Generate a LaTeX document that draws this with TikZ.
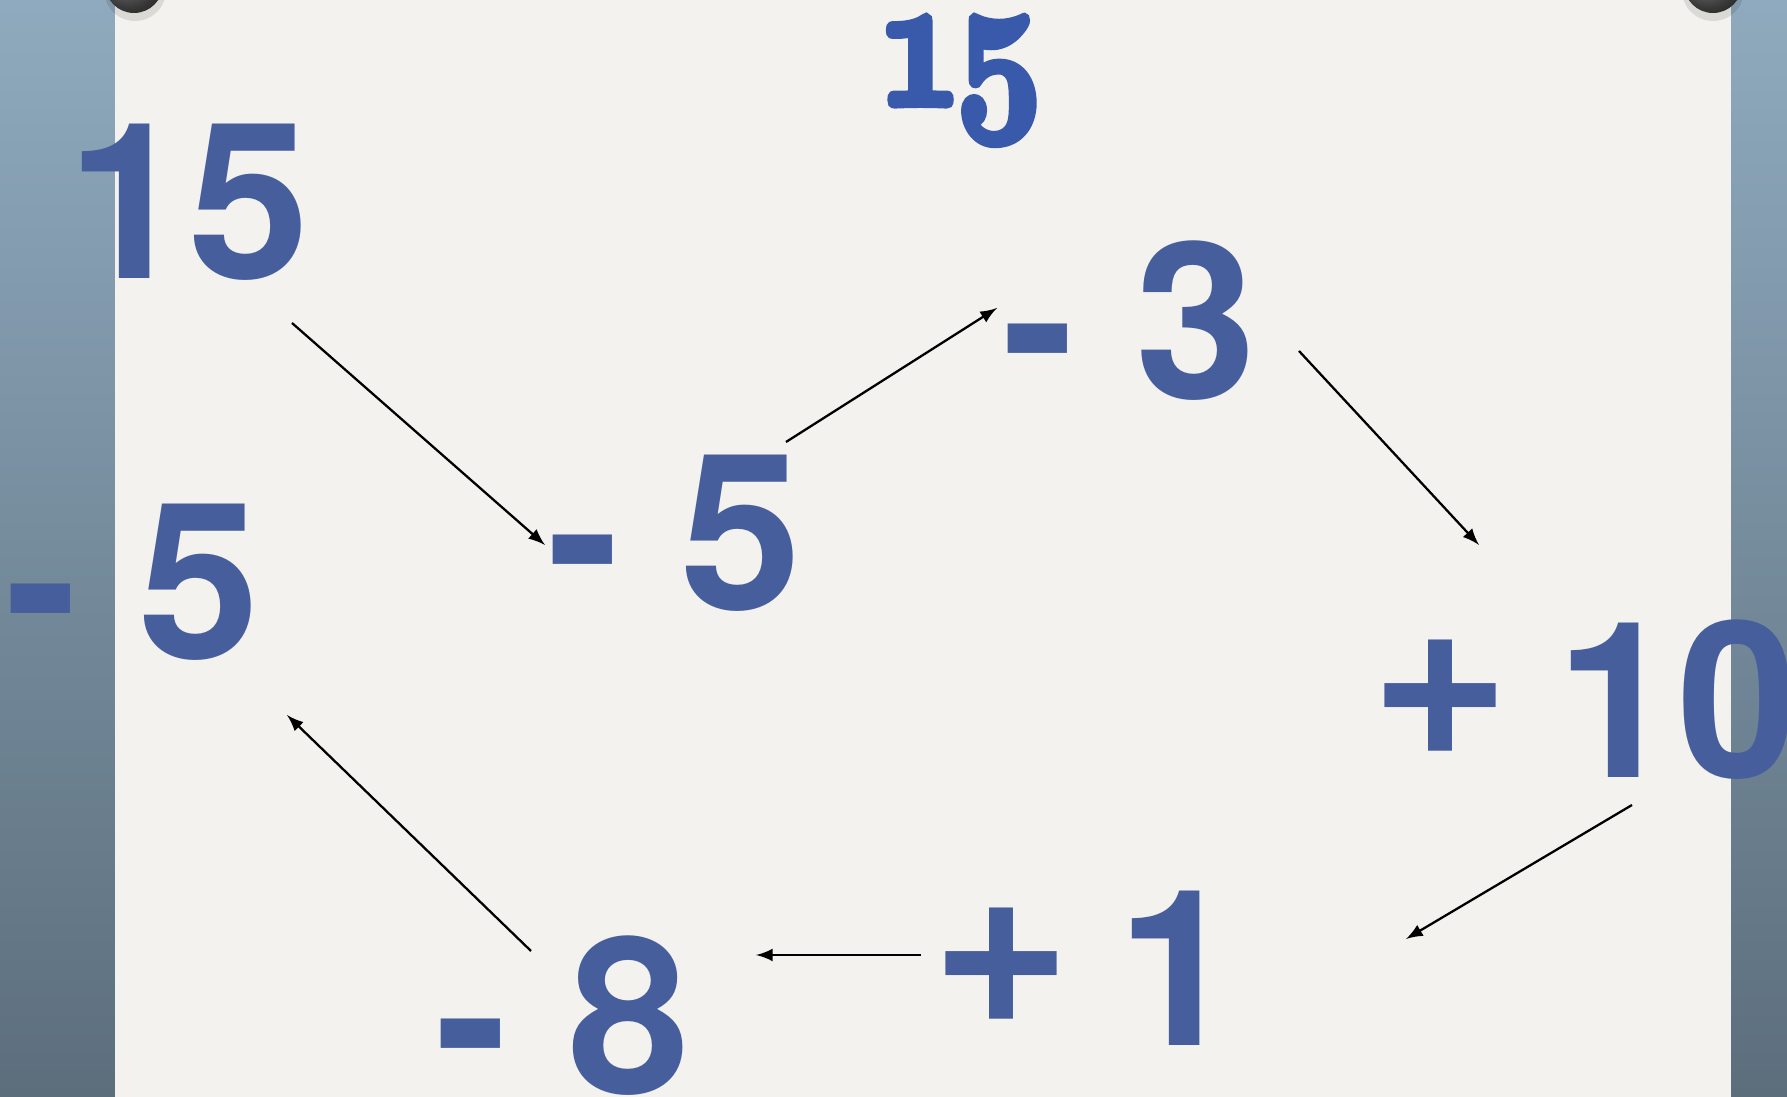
\documentclass[tikz,border=0pt]{standalone}
\usepackage{fontspec}
\setmainfont{TeX Gyre Heros}
\definecolor{numblue}{RGB}{70,94,156}
\definecolor{topblue}{RGB}{57,89,170}
\definecolor{paper}{RGB}{243,242,238}
\definecolor{wallhi}{RGB}{143,170,190}
\definecolor{walllo}{RGB}{92,110,124}
\newcommand{\pluss}{\raisebox{6.5pt}{\scalebox{1.1}{+}}\kern13pt}
\tikzset{
	num/.style={anchor=base west,inner sep=0pt,text=numblue,font=\fontsize{62}{62}\selectfont\bfseries},
	hop/.style={->,>=latex,line width=0.65pt},
	pin/.style={ball color=black!55,draw=none}
}
\begin{document}
\begin{tikzpicture}[x=0.1mm,y=-0.1mm]
	\useasboundingbox (0,0) rectangle (1787,1097);
	% wall and paper
	\shade[top color=wallhi,bottom color=walllo] (0,0) rectangle (1787,1097);
	\fill[paper] (115,0) rectangle (1731,1097);
	\fill[black,opacity=0.1] (135,-10) circle (31);
	\fill[black,opacity=0.1] (1713,-10) circle (31);
	\shade[pin] (134,-16) circle (29);
	\shade[pin] (1713,-16) circle (29);
	% numbers
	\node[anchor=base west,inner sep=0pt,text=topblue] (top) at (876,104)
		{\special{pdf:literal direct 2 Tr 1.2 w}\scalebox{1.7}[2.15]{\fontsize{24.88}{25}\usefont{OML}{cmm}{b}{it}1\kern-1pt5}};
	\node[num] (n15) at (67,279) {15};
	\node[num] (m5l) at (5,659) {- 5};
	\node[num] (m5m) at (547,610) {- 5};
	\node[num] (m3) at (1002,399) {- 3};
	\node[num] (p10) at (1370,778) {\pluss 10};
	\node[num] (p1) at (931,1046) {\pluss 1};
	\node[num] (m8) at (435,1094) {- 8};
	% arrow ends
	\coordinate (a1) at (292,323); \coordinate (b1) at (545,545);
	\coordinate (a2) at (786,442); \coordinate (b2) at (997,308);
	\coordinate (a3) at (1299,351); \coordinate (b3) at (1479,545);
	\coordinate (a4) at (1632,805); \coordinate (b4) at (1406,939);
	\coordinate (a5) at (921,955); \coordinate (b5) at (756,955);
	\coordinate (a6) at (531,951); \coordinate (b6) at (287,715);
	\draw[hop] (a1)--(b1);
	\draw[hop] (a2)--(b2);
	\draw[hop] (a3)--(b3);
	\draw[hop] (a4)--(b4);
	\draw[hop] (a5)--(b5);
	\draw[hop] (a6)--(b6);
\end{tikzpicture}
\end{document}
